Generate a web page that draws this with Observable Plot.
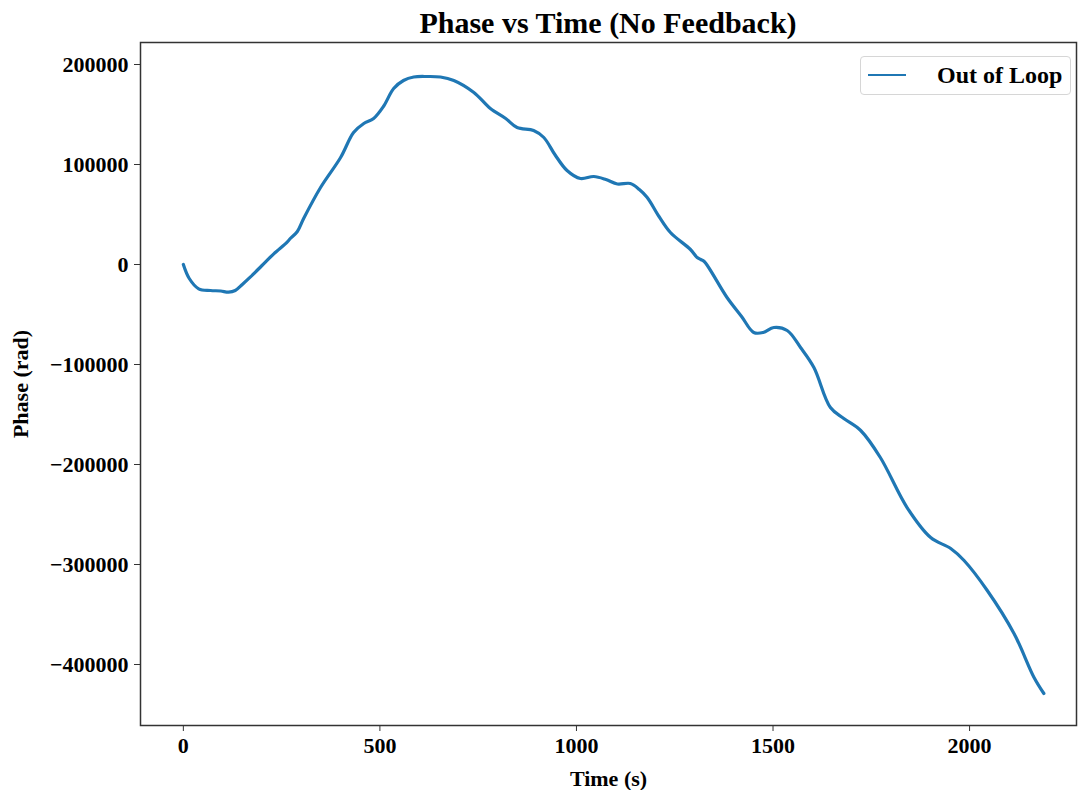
<!DOCTYPE html>
<html>
<head>
<meta charset="utf-8">
<script src="https://cdn.jsdelivr.net/npm/d3@7"></script>
<script src="https://cdn.jsdelivr.net/npm/@observablehq/plot@0.6"></script>
<style>
  html, body { margin: 0; padding: 0; background: #fff; }
  #wrap { position: relative; width: 1078px; height: 790px; overflow: hidden; }
  #title { height: 38px; line-height: 46px; width: 1078px; box-sizing: border-box; padding-left: 138px; text-align: center;
           font-family: "Liberation Serif", "Times New Roman", serif; font-weight: bold; font-size: 30px; color: #000; overflow: visible; white-space: nowrap; }
  #chart svg { display: block; font-family: "Liberation Serif", "Times New Roman", serif; }
  #chart g[aria-label$="tick label"] text { font-family: "Liberation Serif", serif; font-weight: bold; font-size: 22px; fill: #000; }
  #chart g[aria-label$="-axis label"] text { font-family: "Liberation Serif", serif; font-weight: bold; font-size: 22px; fill: #000; }
  #legend { position: absolute; left: 860px; top: 56px; width: 211px; height: 39px; border: 1px solid #d6d6d6; border-radius: 4px; background: rgba(255,255,255,0.9); box-sizing: border-box; }
  #legend .swatch { position: absolute; left: 7px; top: 17px; width: 38px; height: 0; border-top: 2.5px solid #1f77b4; }
  #legend .lab { position: absolute; left: 76px; top: 3px; font-family: "Liberation Serif", serif; font-weight: bold; font-size: 24px; line-height: 30px; color: #000; white-space: nowrap; }
</style>
</head>
<body>
<div id="wrap">
  <div id="title">Phase vs Time (No Feedback)</div>
  <div id="chart"></div>
  <div id="legend"><div class="swatch"></div><div class="lab">Out of Loop</div></div>
</div>
<script>
// Time (s)
const timeS = [0, 15, 39, 69, 95, 115, 132, 150, 170, 200, 230, 264, 272, 290, 306, 349, 400, 433, 459, 484, 509, 535, 560, 586, 620, 654, 688, 739, 781, 820, 849, 891, 917, 945, 976, 1010, 1044, 1075, 1104, 1137, 1160, 1180, 1210, 1239, 1290, 1307, 1316, 1325, 1383, 1420, 1451, 1475, 1502, 1536, 1570, 1604, 1646, 1680, 1723, 1773, 1841, 1901, 1952, 1986, 2045, 2113, 2164, 2189];
// Phase (rad), "Out of Loop"
const phaseRad = [0, -14000, -24300, -26000, -26500, -27700, -26000, -20000, -12700, -1000, 10700, 22300, 26000, 33000, 46000, 77000, 107000, 132000, 141000, 146000, 158000, 176000, 184000, 187500, 188000, 187500, 184000, 172000, 156000, 146000, 137000, 134000, 127000, 110000, 94000, 86000, 88000, 85000, 80500, 81000, 75000, 67000, 48000, 32000, 15000, 7000, 5000, 3000, -33000, -52000, -68000, -68000, -63000, -66000, -83000, -103000, -143000, -154000, -166000, -193000, -243000, -273000, -284000, -296000, -326000, -369000, -413000, -429000];
const xTicks = [0, 500, 1000, 1500, 2000];
const yTicks = [200000, 100000, 0, -100000, -200000, -300000, -400000];
const seriesName = "Out of Loop";

const data = timeS.map((t, i) => ({t, p: phaseRad[i], series: seriesName}));

const chart = Plot.plot({
  width: 1078,
  height: 752,
  marginTop: 4,
  marginLeft: 140,
  marginRight: 2,
  marginBottom: 65,
  style: {background: "#fff", color: "#000", overflow: "visible"},
  x: {domain: [-109, 2272]},
  y: {domain: [-461000, 222000]},
  marks: [
    Plot.line(data, {x: "t", y: "p", stroke: "#1f77b4", strokeWidth: 3.2, curve: "catmull-rom"}),
    Plot.frame({stroke: "#333", strokeWidth: 1.5}),
    Plot.axisX({ticks: xTicks, tickFormat: d3.format("d"), tickSize: 6, tickPadding: 6, label: "Time (s)", labelArrow: "none", labelAnchor: "center", labelOffset: 60, stroke: "#333"}),
    Plot.axisY({ticks: yTicks, tickFormat: d3.format("d"), tickSize: 6, tickPadding: 6, label: "Phase (rad)", labelArrow: "none", labelAnchor: "center", labelOffset: 128, stroke: "#333"})
  ]
});
document.getElementById("chart").appendChild(chart);
</script>
</body>
</html>
